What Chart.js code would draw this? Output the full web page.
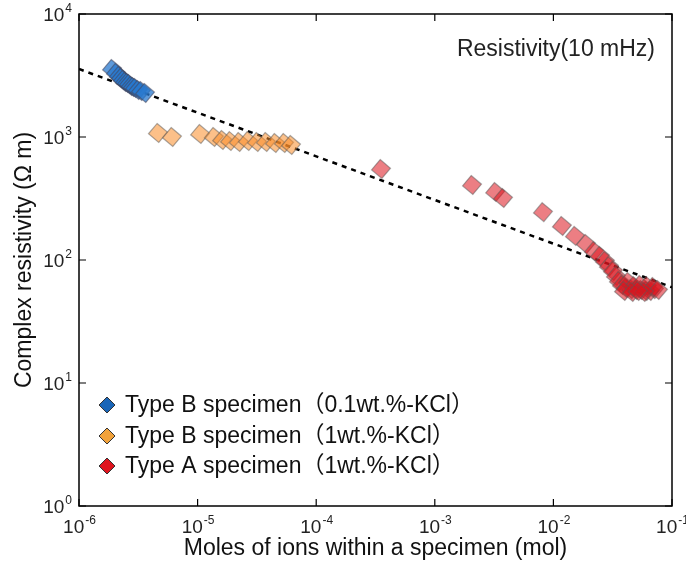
<!DOCTYPE html>
<html>
<head>
<meta charset="utf-8">
<script src="https://cdn.jsdelivr.net/npm/chart.js@4/dist/chart.umd.min.js"></script>
<style>
  html, body { margin: 0; padding: 0; background: #fff; }
  canvas { display: block; }
</style>
</head>
<body>
<canvas id="chart" width="686" height="562"></canvas>
<script>
// Datos
const blueX = [1.90e-6, 2.05e-6, 2.17e-6, 2.26e-6, 2.35e-6, 2.44e-6, 2.54e-6, 2.64e-6, 2.74e-6, 2.85e-6, 2.97e-6, 3.14e-6, 3.33e-6, 3.60e-6];
const blueY = [3570, 3311, 3133, 3020, 2904, 2800, 2748, 2697, 2600, 2552, 2503, 2411, 2366, 2280];

const orangeX = [4.63e-6, 6.08e-6, 1.05e-5, 1.37e-5, 1.61e-5, 1.88e-5, 2.23e-5, 2.66e-5, 3.17e-5, 3.77e-5, 4.50e-5, 5.35e-5, 6.13e-5];
const orangeY = [1079, 1000, 1058, 1000, 946, 927, 910, 927, 910, 910, 893, 893, 861];

const redX = [3.52e-4, 2.06e-3, 3.23e-3, 3.76e-3, 8.17e-3, 0.0118, 0.0152, 0.0188, 0.0220, 0.0247, 0.0272, 0.0294, 0.0318, 0.0337, 0.0357, 0.0379, 0.0409, 0.0451, 0.0497, 0.0548, 0.0604, 0.0653, 0.0705, 0.0426, 0.0478, 0.0537, 0.0615, 0.0692, 0.0762, 0.0394, 0.0460, 0.0581, 0.0516];
const redY = [549, 407, 357, 319, 245, 189, 157, 135, 118, 108, 98, 89, 81.5, 74, 67.5, 62.6, 59.2, 58, 57, 57, 56, 56, 58, 66.3, 61.4, 62.6, 61.4, 60.3, 57, 56, 55, 55, 56];

// Recta de ajuste (extremos)
const fitX = [1e-6, 1e-1];
const fitY = [3570, 60];

// Ticks de los ejes
const xTickValues = [1e-6, 1e-5, 1e-4, 1e-3, 1e-2, 1e-1];
const xTickExp = ['-6', '-5', '-4', '-3', '-2', '-1'];
const yTickValues = [1, 10, 100, 1000, 10000];
const yTickExp = ['0', '1', '2', '3', '4'];

const seriesLabels = [
    'Type B specimen（0.1wt.%-KCl）',
    'Type B specimen（1wt.%-KCl）',
    'Type A specimen（1wt.%-KCl）'
];
const legendColors = ['#1a66b8', '#f2a23a', '#e0141e'];

const FONT = '"Liberation Sans", Arial, "Noto Sans CJK JP", sans-serif';

function toPoints(xs, ys) {
    return xs.map((x, i) => ({ x: x, y: ys[i] }));
}

/**
 * Dibuja marco, ticks internos, etiquetas con exponentes, titulos, leyenda y nota
 */
const axesPlugin = {
    id: 'axesPlugin',
    afterDraw(chart) {
        const ctx = chart.ctx;
        const a = chart.chartArea;
        const xs = chart.scales.x;
        const ys = chart.scales.y;
        const tick = 7;

        ctx.save();
        // Marco
        ctx.strokeStyle = '#000';
        ctx.lineWidth = 1.5;
        ctx.strokeRect(a.left, a.top, a.right - a.left, a.bottom - a.top);

        // Ticks hacia adentro
        ctx.lineWidth = 1.2;
        ctx.beginPath();
        xTickValues.forEach(v => {
            const px = xs.getPixelForValue(v);
            ctx.moveTo(px, a.bottom); ctx.lineTo(px, a.bottom - tick);
            ctx.moveTo(px, a.top); ctx.lineTo(px, a.top + tick);
        });
        yTickValues.forEach(v => {
            const py = ys.getPixelForValue(v);
            ctx.moveTo(a.left, py); ctx.lineTo(a.left + tick, py);
            ctx.moveTo(a.right, py); ctx.lineTo(a.right - tick, py);
        });
        ctx.stroke();

        // Etiquetas de ticks: 10 con exponente
        const baseFont = '19px ' + FONT;
        const expFont = '12px ' + FONT;
        ctx.fillStyle = '#222';
        ctx.textBaseline = 'alphabetic';
        xTickValues.forEach((v, i) => {
            const px = xs.getPixelForValue(v);
            ctx.font = baseFont;
            const wb = ctx.measureText('10').width;
            ctx.font = expFont;
            const we = ctx.measureText(xTickExp[i]).width;
            const x0 = px - (wb + we) / 2;
            ctx.font = baseFont;
            ctx.textAlign = 'left';
            ctx.fillText('10', x0, a.bottom + 27);
            ctx.font = expFont;
            ctx.fillText(xTickExp[i], x0 + wb + 1, a.bottom + 18);
        });
        yTickValues.forEach((v, i) => {
            const py = ys.getPixelForValue(v);
            ctx.font = expFont;
            const we = ctx.measureText(yTickExp[i]).width;
            const xr = a.left - 7;
            ctx.textAlign = 'right';
            ctx.fillText(yTickExp[i], xr, py - 2);
            ctx.font = baseFont;
            ctx.fillText('10', xr - we - 1, py + 7);
        });

        // Titulos de ejes
        ctx.fillStyle = '#111';
        ctx.font = '23px ' + FONT;
        ctx.textAlign = 'center';
        ctx.textBaseline = 'middle';
        ctx.fillText('Moles of ions within a specimen (mol)', (a.left + a.right) / 2, 549);
        ctx.save();
        ctx.translate(25, (a.top + a.bottom) / 2);
        ctx.rotate(-Math.PI / 2);
        ctx.fillText('Complex resistivity (\u03A9 m)', 0, 0);
        ctx.restore();

        // Nota
        ctx.font = '23px ' + FONT;
        ctx.textAlign = 'right';
        ctx.fillStyle = '#222';
        ctx.fillText('Resistivity(10 mHz)', 655, 50);

        // Leyenda
        const rows = [405, 436, 466];
        ctx.font = '23px ' + FONT;
        ctx.textAlign = 'left';
        seriesLabels.forEach((label, i) => {
            const cx = 107, cy = rows[i], r = 8;
            ctx.beginPath();
            ctx.moveTo(cx, cy - r); ctx.lineTo(cx + r, cy);
            ctx.lineTo(cx, cy + r); ctx.lineTo(cx - r, cy);
            ctx.closePath();
            ctx.fillStyle = legendColors[i];
            ctx.fill();
            ctx.strokeStyle = '#333';
            ctx.lineWidth = 1;
            ctx.stroke();
            ctx.fillStyle = '#111';
            ctx.fillText(label, 125, cy + 1);
        });
        ctx.restore();
    }
};

const pointCommon = {
    type: 'scatter',
    pointStyle: 'rect',
    rotation: 40,
    pointRadius: 9.5,
    pointHoverRadius: 9.5,
    borderWidth: 1.2
};

new Chart(document.getElementById('chart'), {
    data: {
        datasets: [
            Object.assign({}, pointCommon, {
                label: seriesLabels[0],
                data: toPoints(blueX, blueY),
                backgroundColor: 'rgba(40, 120, 205, 0.75)',
                borderColor: 'rgba(70, 70, 90, 0.55)',
                order: 1
            }),
            Object.assign({}, pointCommon, {
                label: seriesLabels[1],
                data: toPoints(orangeX, orangeY),
                backgroundColor: 'rgba(250, 140, 40, 0.55)',
                borderColor: 'rgba(90, 90, 90, 0.5)',
                order: 2
            }),
            Object.assign({}, pointCommon, {
                label: seriesLabels[2],
                data: toPoints(redX, redY),
                backgroundColor: 'rgba(220, 20, 30, 0.55)',
                borderColor: 'rgba(90, 90, 90, 0.5)',
                order: 3
            }),
            {
                type: 'line',
                label: 'fit',
                data: toPoints(fitX, fitY),
                borderColor: '#000',
                borderWidth: 2.5,
                borderDash: [5, 5],
                pointRadius: 0,
                fill: false,
                order: 4
            }
        ]
    },
    options: {
        responsive: false,
        animation: false,
        events: [],
        layout: { padding: { left: 79, top: 14, right: 14, bottom: 56 } },
        plugins: {
            legend: { display: false },
            tooltip: { enabled: false }
        },
        scales: {
            x: { type: 'logarithmic', min: 1e-6, max: 1e-1, display: false },
            y: { type: 'logarithmic', min: 1, max: 1e4, display: false }
        }
    },
    plugins: [axesPlugin]
});
</script>
</body>
</html>
